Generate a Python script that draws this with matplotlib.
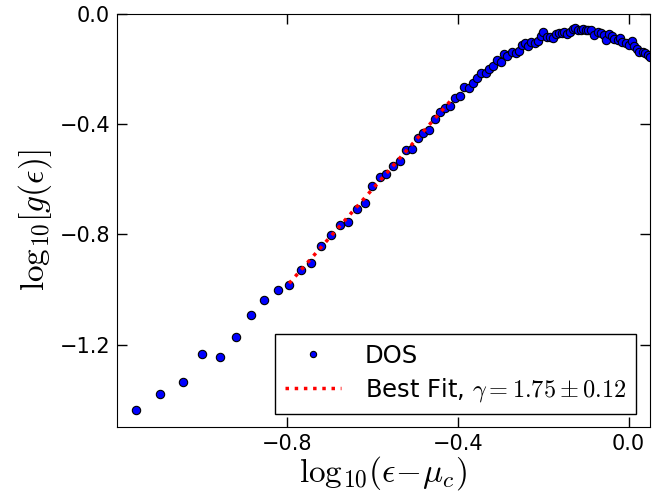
import matplotlib
matplotlib.use("Agg")
import matplotlib.pyplot as plt

plt.rcParams['mathtext.fontset'] = 'cm'

# DOS points (log10 scale on both axes)
dos_x = [-1.155, -1.098, -1.045, -1.000, -0.958, -0.921, -0.886, -0.855, -0.823, -0.796,
         -0.769, -0.745, -0.721, -0.698, -0.677, -0.657, -0.638, -0.619, -0.602, -0.584,
         -0.568, -0.552, -0.537, -0.522, -0.508, -0.494, -0.482, -0.467, -0.455, -0.443,
         -0.431, -0.418, -0.408, -0.396, -0.386, -0.375, -0.365, -0.355, -0.346, -0.335,
         -0.327, -0.317, -0.309, -0.299, -0.291, -0.284, -0.274, -0.265, -0.258, -0.251,
         -0.243, -0.235, -0.228, -0.220, -0.213, -0.206, -0.200, -0.192, -0.185, -0.178,
         -0.171, -0.164, -0.156, -0.151, -0.144, -0.138, -0.131, -0.125, -0.119, -0.112,
         -0.106, -0.100, -0.094, -0.087, -0.080, -0.072, -0.065, -0.058, -0.053, -0.046,
         -0.039, -0.033, -0.025, -0.020, -0.015, -0.006, 0.000, 0.008, 0.014, 0.020,
         0.025, 0.033, 0.039, 0.045, 0.050]
dos_y = [-1.438, -1.379, -1.337, -1.234, -1.244, -1.173, -1.092, -1.039, -1.002, -0.984,
         -0.928, -0.903, -0.843, -0.803, -0.766, -0.755, -0.709, -0.687, -0.626, -0.591,
         -0.580, -0.551, -0.535, -0.493, -0.489, -0.450, -0.432, -0.421, -0.380, -0.355,
         -0.343, -0.334, -0.304, -0.298, -0.266, -0.267, -0.250, -0.231, -0.216, -0.213,
         -0.200, -0.188, -0.167, -0.176, -0.145, -0.152, -0.139, -0.142, -0.134, -0.112,
         -0.104, -0.118, -0.100, -0.106, -0.097, -0.080, -0.065, -0.084, -0.082, -0.088,
         -0.074, -0.070, -0.070, -0.065, -0.071, -0.065, -0.056, -0.052, -0.058, -0.060,
         -0.056, -0.060, -0.060, -0.060, -0.077, -0.065, -0.070, -0.075, -0.094, -0.071,
         -0.079, -0.092, -0.094, -0.088, -0.103, -0.106, -0.113, -0.099, -0.118, -0.128,
         -0.137, -0.137, -0.142, -0.149, -0.155]

# best fit segment (slope gamma = 1.75)
fit_x = [-0.796, -0.410]
fit_y = [-0.978, -0.302]

xticks = [-0.8, -0.4, 0.0]
yticks = [0.0, -0.4, -0.8, -1.2]

def fmt(t):
    return ('%.1f' % t).replace('-', '\u2212')

fig = plt.figure(figsize=(6.72, 4.99), dpi=100)
ax = fig.add_axes([0.174, 0.144, 0.793, 0.828])

ax.plot(dos_x, dos_y, 'o', color='blue', markeredgecolor='black', markeredgewidth=0.8,
        markersize=6, label='DOS')
ax.plot(fit_x, fit_y, ':', color='red', linewidth=2.5,
        label=r'Best Fit, $\gamma=1.75\pm0.12$')

ax.set_xlim(-1.2, 0.05)
ax.set_ylim(-1.5, 0.0)
ax.set_xticks(xticks)
ax.set_yticks(yticks)
ax.set_xticklabels([fmt(t) for t in xticks])
ax.set_yticklabels([fmt(t) for t in yticks])
ax.tick_params(direction='in', top=True, right=True, length=7, width=1,
               labelsize=15, pad=5)

ax.set_xlabel(r'$\mathrm{log}_{10}(\epsilon\!-\!\mu_c)$', fontsize=24, labelpad=0)
ax.set_ylabel(r'$\mathrm{log}_{10}[g(\epsilon)]$', fontsize=24, labelpad=4)

leg = ax.legend(loc='lower right', fontsize=17.5, numpoints=1, fancybox=False,
                framealpha=1, borderaxespad=0.55, handlelength=2.3,
                markerscale=0.75, borderpad=0.4, labelspacing=0.35,
                handletextpad=1.0)
leg.get_frame().set_edgecolor('black')

fig.savefig('out.png', dpi=100)
